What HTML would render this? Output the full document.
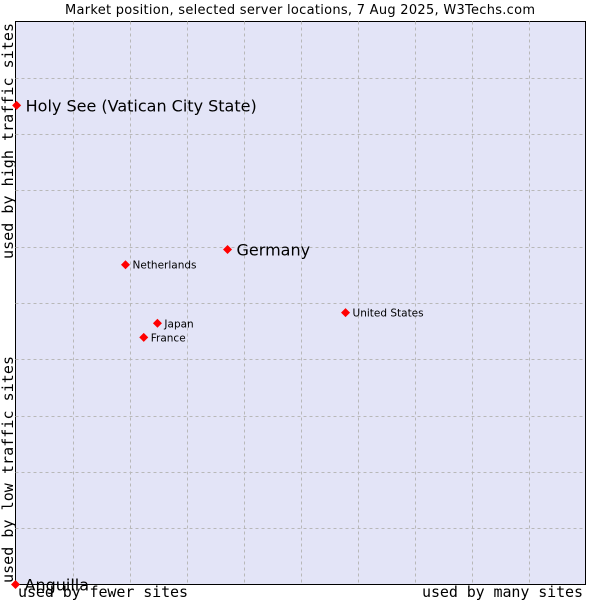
<!DOCTYPE html>
<html><head><meta charset="utf-8"><style>
body{margin:0;background:#fff;width:600px;height:600px;overflow:hidden}
text{font-family:"DejaVu Sans","Liberation Sans",sans-serif}
.mono{font-family:"DejaVu Sans Mono","Liberation Mono",monospace;font-size:15px}
</style></head><body>
<svg id="chart" width="600" height="600">
<text x="300" y="14" font-size="13" text-anchor="middle" textLength="470">Market position, selected server locations, 7 Aug 2025, W3Techs.com</text>
<rect x="15.5" y="21.5" width="570" height="563" fill="#e3e4f7" stroke="#000"/>
<g id="grid"></g>
<g id="points"></g>
<text class="mono" x="18" y="597" textLength="170">used by fewer sites</text>
<text class="mono" x="422" y="597" textLength="161">used by many sites</text>
<text class="mono" transform="translate(13,259) rotate(-90)" textLength="236">used by high traffic sites</text>
<text class="mono" transform="translate(13,583) rotate(-90)" textLength="227">used by low traffic sites</text>
</svg>
<script>
const countries=["Holy See (Vatican City State)","Germany","Netherlands","United States","Japan","France","Anguilla"];
const xValues=[0.2,37.2,19.3,57.9,24.9,22.5,0];
const yValues=[85.1,59.5,56.8,48.3,46.4,43.9,0];
const labelSizes=[16,16,10.5,10.5,10.5,10.5,16];
const L=15.5,R=585.5,T=21.5,B=584.5;
const sx=v=>L+(R-L)*v/100, sy=v=>B-(B-T)*v/100;
const ns="http://www.w3.org/2000/svg";
const grid=document.getElementById('grid');
for(let i=1;i<10;i++){
  const v=document.createElementNS(ns,'line');
  
  
  const x=Math.round(sx(i*10))+0.5;
  v.setAttribute('x1',x);v.setAttribute('x2',x);v.setAttribute('y1',T);v.setAttribute('y2',B);
  v.setAttribute('stroke','#b8b8b8');v.setAttribute('stroke-dasharray','3,3');grid.appendChild(v);
  const h=document.createElementNS(ns,'line');
  
  
  const y=Math.round(sy(i*10))+0.5;
  h.setAttribute('x1',L);h.setAttribute('x2',R);h.setAttribute('y1',y);h.setAttribute('y2',y);
  h.setAttribute('stroke','#b8b8b8');h.setAttribute('stroke-dasharray','3,3');grid.appendChild(h);
}
const pts=document.getElementById('points');
countries.forEach((c,i)=>{
  const x=sx(xValues[i]),y=sy(yValues[i]);
  const p=document.createElementNS(ns,'path');
  
  
  p.setAttribute('d',`M${x-4.5},${y}L${x},${y-4.5}L${x+4.5},${y}L${x},${y+4.5}Z`);
  p.setAttribute('fill','#f00');pts.appendChild(p);
  const t=document.createElementNS(ns,'text');
  
  
  const s=labelSizes[i];
  t.setAttribute('x',x+(s>12?9:7));t.setAttribute('y',y+(s>12?6:4));
  t.setAttribute('font-size',s);t.textContent=c;pts.appendChild(t);
});
</script>
</body></html>
